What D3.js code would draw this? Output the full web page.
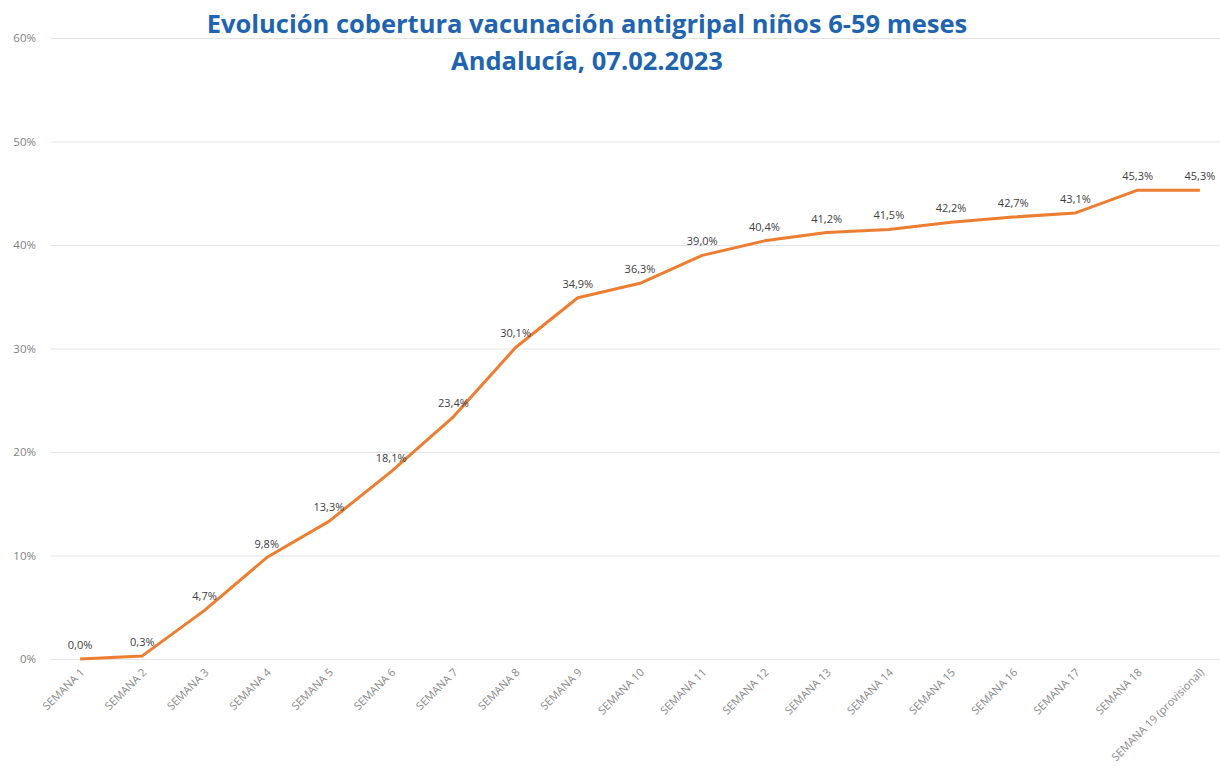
<!DOCTYPE html>
<html>
<head>
<meta charset="utf-8">
<script src="https://cdn.jsdelivr.net/npm/d3@7"></script>
<style>
  body { margin: 0; background: #fff; }
  svg { font-family: "Open Sans", "Noto Sans", sans-serif; }
  .grid line { stroke: #e3e3e3; stroke-width: 1; }
  .y-tick { fill: #7f7f7f; font-size: 11.5px; }
  .x-tick { fill: #8a8a8a; font-size: 11px; }
  .val { fill: #404040; font-size: 11px; }
  .title { fill: #1f64b0; font-size: 25.5px; font-weight: bold; }
</style>
</head>
<body>
<svg width="1220" height="774"></svg>
<script>
// semanas y cobertura (%)
const weeks = ['SEMANA 1', 'SEMANA 2', 'SEMANA 3', 'SEMANA 4', 'SEMANA 5', 'SEMANA 6', 'SEMANA 7',
    'SEMANA 8', 'SEMANA 9', 'SEMANA 10', 'SEMANA 11', 'SEMANA 12', 'SEMANA 13', 'SEMANA 14',
    'SEMANA 15', 'SEMANA 16', 'SEMANA 17', 'SEMANA 18', 'SEMANA 19 (provisional)'];
const coverage = [0.0, 0.3, 4.7, 9.8, 13.3, 18.1, 23.4, 30.1, 34.9, 36.3, 39.0, 40.4, 41.2, 41.5,
    42.2, 42.7, 43.1, 45.3, 45.3];
const yTicks = [0, 10, 20, 30, 40, 50, 60];
const titleLines = ['Evolución cobertura vacunación antigripal niños 6-59 meses', 'Andalucía, 07.02.2023'];

const svg = d3.select('svg');

const x = d3.scalePoint()
    .domain(weeks)
    .range([49, 1231])
    .padding(0.5);

const y = d3.scaleLinear()
    .domain([0, 60])
    .range([659, 38]);

const fmt = v => d3.format('.1f')(v).replace('.', ',') + '%';

// gridlines
svg.append('g')
    .attr('class', 'grid')
    .selectAll('line')
    .data(yTicks).enter()
    .append('line')
    .attr('x1', 51)
    .attr('x2', 1220)
    .attr('y1', d => y(d) + 0.5)
    .attr('y2', d => y(d) + 0.5);

svg.append('g')
    .selectAll('text')
    .data(yTicks).enter()
    .append('text')
    .attr('class', 'y-tick')
    .attr('x', 36)
    .attr('y', d => y(d) + 4)
    .attr('text-anchor', 'end')
    .text(d => d + '%');

// x labels, rotated
svg.append('g')
    .selectAll('text')
    .data(weeks).enter()
    .append('text')
    .attr('class', 'x-tick')
    .attr('text-anchor', 'end')
    .attr('transform', d => `translate(${x(d) + 5},${673}) rotate(-45)`)
    .text(d => d);

const line = d3.line()
    .x((d, i) => x(weeks[i]))
    .y(d => y(d));

svg.append('path')
    .datum(coverage)
    .attr('fill', 'none')
    .attr('stroke', '#ed7d31')
    .attr('stroke-width', 3)
    .attr('stroke-linejoin', 'round')
    .attr('d', line);

svg.append('g')
    .selectAll('text')
    .data(coverage).enter()
    .append('text')
    .attr('class', 'val')
    .attr('x', (d, i) => x(weeks[i]))
    .attr('y', d => y(d) - 10)
    .attr('text-anchor', 'middle')
    .text(fmt);

svg.append('g')
    .selectAll('text')
    .data(titleLines).enter()
    .append('text')
    .attr('class', 'title')
    .attr('x', 587)
    .attr('y', (d, i) => 33 + i * 37)
    .attr('text-anchor', 'middle')
    .text(d => d);
</script>
</body>
</html>
